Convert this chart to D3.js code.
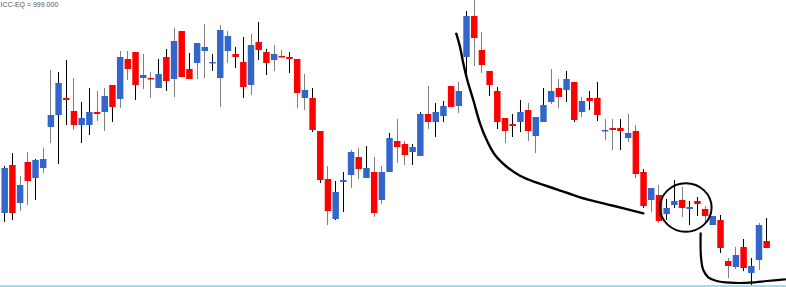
<!DOCTYPE html>
<html>
<head>
<meta charset="utf-8">
<script src="https://cdn.jsdelivr.net/npm/d3@7"></script>
<style>
  html, body { margin: 0; padding: 0; background: #fff; }
  svg { display: block; }
</style>
</head>
<body>
<svg id="chart" width="786" height="287"></svg>
<script>
// OHLC (arbitrary price units, no axis shown)
const opens = [
  87,135,97,138,122,132,173,185,202,189, 175,175,188,188,215,201,241,248,222,222,
  212,243,221,269,231,237,249,237,222,249, 246,238,215,258,248,240,244,243,241,202,
  202,169,121,81,118,125,143,122,128,100, 128,159,156,148,144,186,178,184,214,194,
  243,284,250,229,209,182,176,178,190,164, 178,198,212,210,218,188,202,202,169,172,
  172,162,169,128,100,105,86,95,100,91, 99,91,75,80,39,33,53,27,40,59
];
const highs = [
  134,147,124,148,141,152,230,228,240,222, 198,212,209,212,215,249,249,248,246,228,
  241,251,272,269,247,257,276,246,275,269, 253,263,266,278,251,255,250,248,241,226,
  212,169,134,119,128,150,152,154,143,134, 167,181,159,156,188,214,197,199,214,218,
  289,300,268,229,213,182,186,200,197,183, 212,231,221,229,218,203,209,218,181,181,
  181,186,175,131,112,115,101,120,113,99, 103,94,84,85,42,53,61,42,77,82
];
const lows = [
  78,80,89,95,100,127,157,136,175,170, 157,165,179,169,178,192,220,200,211,202,
  212,209,203,223,221,221,222,229,193,237, 232,202,205,240,225,229,243,227,192,190,
  168,117,75,80,88,112,121,122,83,96, 128,137,135,135,144,171,163,178,193,187,
  222,234,227,204,171,157,163,168,159,147, 178,196,192,198,178,183,190,179,160,150,
  150,158,122,92,88,77,80,92,83,75, 84,78,75,47,22,31,29,15,30,52
];
const closes = [
  132,87,115,119,140,141,185,217,200,175, 182,188,186,204,193,243,231,215,225,221,
  226,219,259,223,221,257,253,238,270,264, 243,213,255,250,237,246,243,241,207,210,
  170,120,89,108,120,148,131,132,87,128, 162,153,145,153,186,178,188,194,193,209,
  284,262,235,215,178,169,174,188,169,183, 195,209,203,221,180,199,199,185,170,170,
  169,167,126,94,112,79,92,99,92,93, 96,84,84,52,34,45,32,34,75,52
];

// hand-drawn annotations, in (candle index, price)
const swoopIdx   = [58.67,59.15,59.58,60.10,60.88,61.75,62.62,63.70,65.22,66.95,69.12,71.72,74.75,78.91,82.97];
const swoopPrice = [266.3,253.3,236.7,220,200,176.7,160,145,133.3,124.3,117.3,110.7,102.7,94.5,86.7];
const cupIdx     = [90.42,90.46,90.76,91.41,92.50,94.23,96.83,99.0,101.38];
const cupPrice   = [66.7,43.3,30,22.7,19,17.3,17.3,19,20.7];
const ringCenter = [88.49, 92.5];   // index, price
const ringRadius = [3.35, 24.2];    // in index units, price units

const title = 'ICC-EQ = 999.000';

const W = 786, H = 287;
const svg = d3.select('#chart');

const x = d3.scaleLinear().domain([0, opens.length - 1]).range([4.7, 766.7]);
const y = d3.scaleLinear().domain([13, 300]).range([287, 0]);
const step = x(1) - x(0);
const bw = step * 0.84;

const candles = opens.map((o, i) => ({i, o, h: highs[i], l: lows[i], c: closes[i]}));

// wicks
svg.append('g').attr('stroke-width', 1)
  .selectAll('line').data(candles).join('line')
  .attr('x1', d => x(d.i)).attr('x2', d => x(d.i))
  .attr('y1', d => y(d.h)).attr('y2', d => y(d.l))
  .attr('stroke', d => (Math.abs(x(d.i) % 1 - 0.5) < 0.25) ? '#000' : '#7f7f7f')
  .attr('shape-rendering', 'crispEdges');

// bodies
svg.append('g').selectAll('rect').data(candles).join('rect')
  .attr('x', d => x(d.i) - bw / 2)
  .attr('width', bw)
  .attr('y', d => y(Math.max(d.o, d.c)))
  .attr('height', d => Math.max(1.5, Math.abs(y(d.o) - y(d.c))))
  .attr('fill', d => d.c >= d.o ? '#3366cc' : '#ff0000');

// bottom border
svg.append('line')
  .attr('x1', 0).attr('x2', W).attr('y1', 286).attr('y2', 286)
  .attr('stroke', '#87cdee').attr('stroke-width', 1.5);

// annotations
const pen = d3.line().x(d => x(d[0])).y(d => y(d[1])).curve(d3.curveCatmullRom);
const ink = svg.append('g').attr('fill', 'none').attr('stroke', '#000')
  .attr('stroke-linecap', 'round').attr('stroke-linejoin', 'round');

ink.append('path').attr('d', pen(d3.zip(swoopIdx, swoopPrice))).attr('stroke-width', 2.4);
ink.append('path').attr('d', pen(d3.zip(cupIdx, cupPrice))).attr('stroke-width', 2.2);
ink.append('ellipse')
  .attr('cx', x(ringCenter[0])).attr('cy', y(ringCenter[1]))
  .attr('rx', x(ringRadius[0]) - x(0)).attr('ry', y(0) - y(ringRadius[1]))
  .attr('stroke-width', 2);

// label
svg.append('text')
  .attr('x', 0.5).attr('y', 7)
  .attr('font-family', 'Liberation Sans, Arial, sans-serif')
  .attr('font-size', 7)
  .attr('fill', '#555')
  .text(title);
</script>
</body>
</html>
